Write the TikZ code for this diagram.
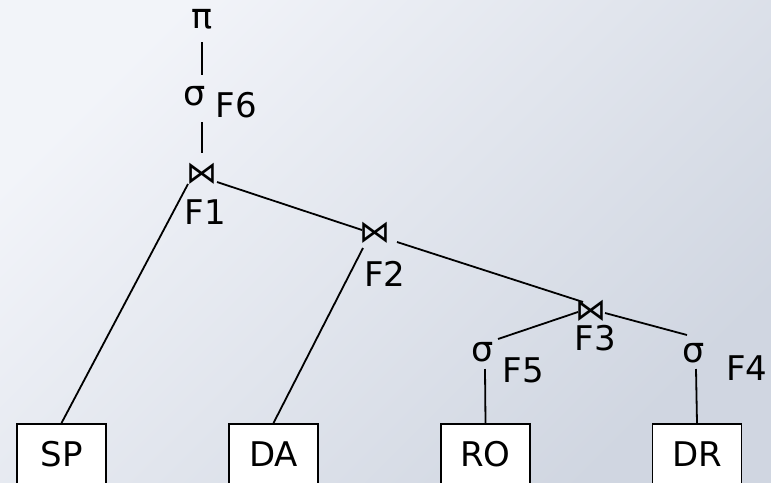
\documentclass[tikz,border=0pt]{standalone}
\usepackage{fontspec}
\setmainfont{DejaVu Sans}
\usetikzlibrary{calc}
\definecolor{bgtop}{HTML}{F2F4F9}
\definecolor{bgbot}{HTML}{D0D6E1}
\begin{document}
\begin{tikzpicture}[x=1pt,y=-1pt,
  lbl/.style={inner sep=0pt, font=\fontsize{34}{40}\selectfont},
  op/.style={inner sep=0pt, font=\fontsize{35}{40}\selectfont},
  jn/.style={inner sep=0pt, font=\fontsize{31}{36}\selectfont},
  rel/.style={draw, fill=white, line width=1.9pt, minimum width=89pt, minimum height=61pt, inner sep=0pt, font=\fontsize{34}{40}\selectfont},
  edge/.style={line width=1.8pt}]
\useasboundingbox (0,0) rectangle (771,482);
\shade[top color=bgtop, bottom color=bgbot, shading angle=45] (0,0) rectangle (771,482);

% operators
\node[op] (pi) at (202,19.5) {π};
\node[op] (s6) at (194.5,96) {σ};
\node[lbl] (f6) at (236.5,105) {F6};
\node[jn] (j1) at (201.5,174) {⋈};
\node[lbl] (f1) at (205.5,212.5) {F1};
\node[jn] (j2) at (375,232.5) {⋈};
\node[lbl] (f2) at (385,273.5) {F2};
\node[jn] (j3) at (590.5,310.5) {⋈};
\node[lbl] (f3) at (595.5,338) {F3};
\node[op] (s5) at (482.5,352.5) {σ};
\node[lbl] (f5) at (523.5,370) {F5};
\node[op] (s4) at (693.5,353) {σ};
\node[lbl] (f4) at (747,368) {F4};

% relations
\begin{scope}
\clip (0,0) rectangle (771,482);
\node[rel] (sp) at (61.5,454.5) {SP};
\node[rel] (da) at (273.5,454.5) {DA};
\node[rel] (ro) at (485.5,454.5) {RO};
\node[rel] (dr) at (697,454.5) {DR};
\end{scope}

% edges
\draw[edge] ($(pi)+(0,22.5)$) -- ($(s6)+(7.5,-21)$);
\draw[edge] ($(s6)+(7.5,26)$) -- ($(j1)+(0.5,-21)$);
\draw[edge] ($(j1)+(-13.5,10)$) -- (sp.north);
\draw[edge] ($(j1)+(15.5,8)$) -- ($(j2)+(-13,-2.5)$);
\draw[edge] ($(j2)+(-12,15.5)$) -- (da.north);
\draw[edge] ($(j2)+(22,9.5)$) -- ($(j3)+(-7.5,-8.5)$);
\draw[edge] ($(j3)+(-12.5,1.5)$) -- ($(s5)+(15.5,-13.5)$);
\draw[edge] ($(j3)+(14.5,2.5)$) -- ($(s4)+(-6.5,-18)$);
\draw[edge] ($(s5)+(2.5,16.5)$) -- (ro.north);
\draw[edge] ($(s4)+(2.5,16)$) -- (dr.north);
\end{tikzpicture}
\end{document}
